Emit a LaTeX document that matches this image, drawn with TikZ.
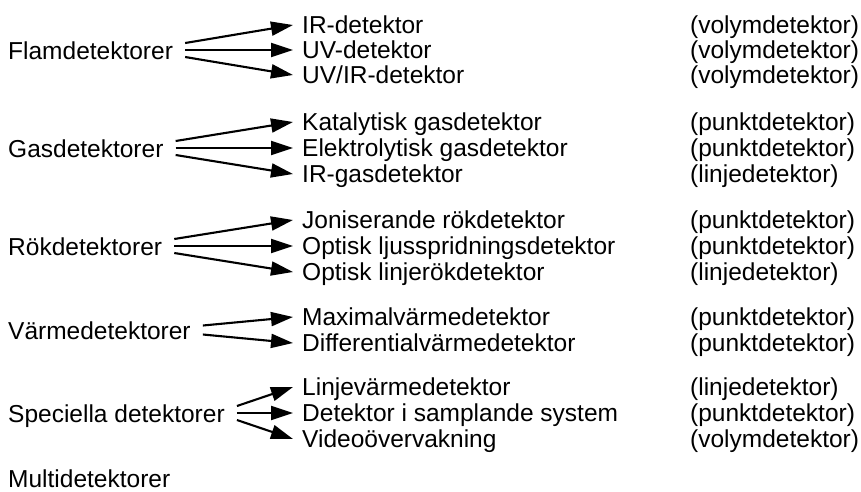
\documentclass[tikz,border=0pt]{standalone}
\usepackage{fontspec}
\setmainfont{Liberation Sans}
\usetikzlibrary{arrows.meta,calc}
\begin{document}
\begin{tikzpicture}[x=1pt,y=-1pt,
  lbl/.style={anchor=base west, inner sep=0pt, font=\fontsize{24.5}{28}\selectfont},
  arr/.style={line width=2.1pt, -{Triangle[length=22pt,width=14pt]}}]
\useasboundingbox (0,0) rectangle (861,491);
% left labels
\node[lbl] (F) at (8,59) {Flamdetektorer};
\node[lbl] (G) at (8,157) {Gasdetektorer};
\node[lbl] (R) at (8,255) {Rökdetektorer};
\node[lbl] (V) at (8,339) {Värmedetektorer};
\node[lbl] (S) at (8,422) {Speciella detektorer};
\node[lbl] (M) at (8,487) {Multidetektorer};
% middle column
\node[lbl] (f1) at (302,33) {IR-detektor};
\node[lbl] (f2) at (302,58) {UV-detektor};
\node[lbl] (f3) at (302,83) {UV/IR-detektor};
\node[lbl] (g1) at (302,130) {Katalytisk gasdetektor};
\node[lbl] (g2) at (302,156) {Elektrolytisk gasdetektor};
\node[lbl] (g3) at (302,182) {IR-gasdetektor};
\node[lbl] (r1) at (302,228) {Joniserande rökdetektor};
\node[lbl] (r2) at (302,254) {Optisk ljusspridningsdetektor};
\node[lbl] (r3) at (302,280) {Optisk linjerökdetektor};
\node[lbl] (v1) at (302,325) {Maximalvärmedetektor};
\node[lbl] (v2) at (302,351) {Differentialvärmedetektor};
\node[lbl] (s1) at (302,395) {Linjevärmedetektor};
\node[lbl] (s2) at (302,421) {Detektor i samplande system};
\node[lbl] (s3) at (302,447) {Videoövervakning};
% right column
\node[lbl] (tf1) at (690,33) {(volymdetektor)};
\node[lbl] (tf2) at (690,58) {(volymdetektor)};
\node[lbl] (tf3) at (690,83) {(volymdetektor)};
\node[lbl] (tg1) at (690,130) {(punktdetektor)};
\node[lbl] (tg2) at (690,156) {(punktdetektor)};
\node[lbl] (tg3) at (690,182) {(linjedetektor)};
\node[lbl] (tr1) at (690,228) {(punktdetektor)};
\node[lbl] (tr2) at (690,254) {(punktdetektor)};
\node[lbl] (tr3) at (690,280) {(linjedetektor)};
\node[lbl] (tv1) at (690,325) {(punktdetektor)};
\node[lbl] (tv2) at (690,351) {(punktdetektor)};
\node[lbl] (ts1) at (690,395) {(linjedetektor)};
\node[lbl] (ts2) at (690,421) {(punktdetektor)};
\node[lbl] (ts3) at (690,447) {(volymdetektor)};
% arrows
\foreach \L/\a/\b/\c in {F/f1/f2/f3, G/g1/g2/g3, R/r1/r2/r3, S/s1/s2/s3}{
  \draw[arr] ($(\L.base east)+(12,-16)$) -- ($(\a.base west)+(-9,-8)$);
  \draw[arr] ($(\L.base east)+(12,-9)$) -- ($(\b.base west)+(-9,-8)$);
  \draw[arr] ($(\L.base east)+(12,-2)$) -- ($(\c.base west)+(-9,-8)$);
}
\draw[arr] ($(V.base east)+(12,-13.5)$) -- ($(v1.base west)+(-9,-8)$);
\draw[arr] ($(V.base east)+(12,-4.5)$) -- ($(v2.base west)+(-9,-8)$);
\end{tikzpicture}
\end{document}
